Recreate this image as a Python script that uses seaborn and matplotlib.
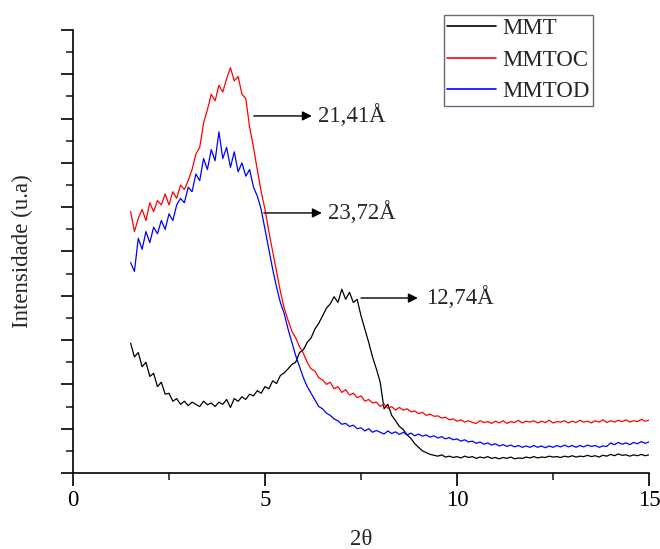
import numpy as np
import pandas as pd
import matplotlib
matplotlib.use("Agg")
import matplotlib.pyplot as plt
import seaborn as sns

# ---- data ----
two_theta = np.round(np.arange(1.5, 15.0001, 0.1), 1)

mmt = [2.93,2.62,2.72,2.40,2.50,2.18,2.25,1.95,2.05,1.78,
       1.80,1.62,1.68,1.55,1.62,1.52,1.60,1.55,1.50,1.62,
       1.54,1.58,1.50,1.60,1.55,1.66,1.48,1.68,1.62,1.72,
       1.66,1.78,1.74,1.86,1.80,1.95,1.90,2.08,2.02,2.20,
       2.26,2.35,2.45,2.50,2.72,2.78,2.95,3.05,3.25,3.38,
       3.55,3.72,3.82,3.98,3.85,4.15,3.92,4.08,3.85,3.92,
       3.55,3.25,2.95,2.62,2.35,2.05,1.45,1.55,1.30,1.18,
       1.05,0.98,0.86,0.78,0.66,0.58,0.50,0.46,0.42,0.40,
       0.38,0.41,0.36,0.38,0.35,0.37,0.34,0.38,0.35,0.37,
       0.33,0.36,0.34,0.37,0.33,0.35,0.32,0.35,0.33,0.36,
       0.32,0.34,0.33,0.36,0.34,0.37,0.34,0.36,0.35,0.38,
       0.36,0.37,0.35,0.38,0.36,0.39,0.36,0.38,0.37,0.40,
       0.37,0.39,0.36,0.40,0.38,0.42,0.39,0.43,0.40,0.41,
       0.38,0.41,0.39,0.42,0.39,0.41]

mmtoc = [5.90,5.45,5.75,5.95,5.70,6.10,5.90,6.15,6.05,6.30,
         6.05,6.35,6.20,6.50,6.40,6.60,6.85,7.20,7.35,7.90,
         8.20,8.55,8.40,8.75,8.60,8.90,9.15,8.85,8.95,8.55,
         8.45,7.80,7.36,6.84,6.35,5.95,5.45,5.00,4.55,4.10,
         3.72,3.45,3.20,3.05,2.85,2.70,2.50,2.35,2.30,2.15,
         2.10,2.00,2.05,1.90,1.95,1.82,1.88,1.76,1.80,1.70,
         1.74,1.62,1.66,1.58,1.60,1.50,1.56,1.46,1.50,1.42,
         1.48,1.42,1.45,1.38,1.40,1.34,1.37,1.30,1.33,1.28,
         1.29,1.24,1.26,1.20,1.22,1.17,1.20,1.15,1.18,1.14,
         1.12,1.18,1.14,1.16,1.12,1.17,1.13,1.18,1.12,1.16,
         1.14,1.19,1.13,1.17,1.15,1.18,1.13,1.17,1.14,1.19,
         1.13,1.16,1.15,1.18,1.13,1.17,1.14,1.19,1.15,1.17,
         1.13,1.18,1.15,1.20,1.14,1.18,1.15,1.19,1.16,1.20,
         1.15,1.18,1.16,1.21,1.17,1.19]

mmtod = [4.75,4.55,5.30,5.05,5.45,5.20,5.55,5.40,5.70,5.50,
         5.85,5.70,6.05,6.20,6.10,6.45,6.35,6.75,6.60,7.10,
         6.85,7.30,7.05,7.70,7.10,7.35,6.90,7.25,6.80,7.00,
         6.70,6.85,6.45,6.25,5.95,5.50,5.05,4.60,4.20,3.85,
         3.60,3.25,2.95,2.65,2.40,2.15,1.95,1.80,1.65,1.50,
         1.45,1.35,1.30,1.22,1.18,1.10,1.12,1.05,1.08,1.00,
         1.02,0.95,1.00,0.92,0.96,0.92,0.88,0.95,0.89,0.93,
         0.87,0.92,0.86,0.90,0.84,0.88,0.83,0.86,0.81,0.84,
         0.79,0.82,0.77,0.80,0.75,0.77,0.72,0.75,0.70,0.72,
         0.67,0.70,0.65,0.68,0.63,0.66,0.61,0.64,0.60,0.63,
         0.59,0.62,0.58,0.61,0.58,0.62,0.58,0.61,0.57,0.61,
         0.58,0.62,0.59,0.63,0.59,0.62,0.58,0.62,0.59,0.63,
         0.60,0.62,0.58,0.61,0.60,0.68,0.64,0.69,0.65,0.68,
         0.64,0.69,0.66,0.71,0.67,0.70]

series_names = ["MMT", "MMTOC", "MMTOD"]
series_colors = ["black", "red", "blue"]
peak_labels = ["21,41Å", "23,72Å", "12,74Å"]

df = pd.DataFrame({
    "2θ": np.concatenate([two_theta] * 3),
    "I": np.concatenate([mmt, mmtoc, mmtod]),
    "amostra": np.repeat(series_names, len(two_theta)),
})

sns.set_style("ticks")
plt.rcParams["font.family"] = ["Liberation Serif", "DejaVu Serif"]

fig = plt.figure(figsize=(6.6, 5.49), dpi=100)
ax = fig.add_axes([73/660, 1 - 473/549, 576/660, 443/549])

sns.lineplot(data=df, x="2θ", y="I", hue="amostra", palette=dict(zip(series_names, series_colors)),
             hue_order=series_names, linewidth=0.9, ax=ax, legend=False, estimator=None)

ax.set_xlim(0, 15)
ax.set_ylim(0, 10)
ax.set_xticks([0, 5, 10, 15])
ax.set_xticks([2.5, 7.5, 12.5], minor=True)
ax.set_yticks(np.arange(0, 11, 1))
ax.set_yticks(np.arange(0.5, 10, 1), minor=True)
ax.set_yticklabels([])
ax.tick_params(axis="both", which="major", length=9, width=1.2, direction="out", labelsize=16.5, colors="black")
ax.tick_params(axis="both", which="minor", length=5, width=1.2, direction="out")
for s in ["top", "right"]:
    ax.spines[s].set_visible(False)
for s in ["left", "bottom"]:
    ax.spines[s].set_linewidth(1.2)
    ax.spines[s].set_color("black")

ax.set_xlabel("2θ", fontsize=16.5, va="center")
ax.set_ylabel("Intensidade (u.a)", fontsize=16.5, va="center")
ax.xaxis.set_label_coords(0.5, -0.151)
ax.yaxis.set_label_coords(-0.0885, 0.5)

# legend
from matplotlib.lines import Line2D
handles = [Line2D([], [], color=c, lw=1.2) for c in series_colors]
leg = fig.legend(handles, series_names, loc="upper left", bbox_to_anchor=(444/660, 1 - 15/549),
                 fontsize=16.5, frameon=True, fancybox=False, handlelength=2.1, handletextpad=0.3,
                 labelspacing=0.45, borderpad=0.15, borderaxespad=0)
leg.get_frame().set_edgecolor("#444444")
leg.get_frame().set_linewidth(1.0)

# peak annotations
arrows = [(4.71, 6.22, 8.06, 6.38), (4.97, 6.48, 5.87, 6.64), (7.50, 8.98, 3.95, 9.19)]
for (x0, x1, y, xt), lab in zip(arrows, peak_labels):
    ax.annotate("", xy=(x1, y), xytext=(x0, y),
                arrowprops=dict(arrowstyle="-|>", color="black", lw=1.0, mutation_scale=14, shrinkA=0, shrinkB=0))
    ax.text(xt, y, lab, fontsize=16.5, va="center", ha="left")

fig.savefig("out.png", dpi=100)
